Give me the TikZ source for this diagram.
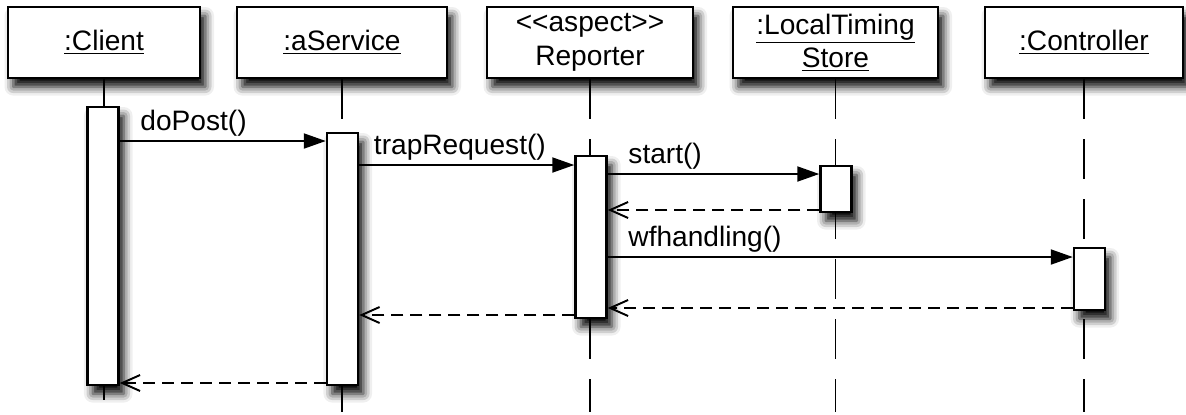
\documentclass[tikz,border=0pt]{standalone}
\usepackage{fontspec}
\setmainfont{Liberation Sans}
\usetikzlibrary{arrows.meta,shadows.blur}

\begin{document}
\begin{tikzpicture}[x=0.02cm,y=-0.02cm,
    ombre/.style={blur shadow={shadow xshift=3pt,shadow yshift=-5pt,shadow blur radius=5pt,shadow opacity=100}},
    obj box/.style={draw,line width=1.4pt,fill=white,minimum height=1.42cm,align=center,
      font=\fontsize{16}{19}\selectfont,ombre},
    act box/.style={draw,line width=1.4pt,fill=white,minimum width=0.62cm,inner sep=0pt,ombre},
    life line/.style={line width=1.1pt,dash pattern=on 0.8cm off 0.4cm},
    call/.style={line width=1.1pt,-{Triangle[length=0.44cm,width=0.3cm]}},
    reply/.style={line width=1.1pt,dash pattern=on 0.24cm off 0.14cm,
      -{Straight Barb[length=0.36cm,width=0.32cm,line width=1.1pt]}},
    msg label/.style={anchor=base west,fill=white,inner sep=1pt,
      font=\fontsize{16}{19}\selectfont,xshift=0.36cm,yshift=0.22cm}]
    \useasboundingbox (0,0) rectangle (1186,414);

    % niveaux des messages
    \coordinate (m1) at (0,141);
    \coordinate (m2) at (0,165);
    \coordinate (m3) at (0,174);
    \coordinate (r1) at (0,210);
    \coordinate (m4) at (0,257);
    \coordinate (r2) at (0,308);
    \coordinate (r3) at (0,315);
    \coordinate (r4) at (0,383);
    \coordinate (bas) at (0,412);
    \coordinate (bas client) at (0,400);

    % les objets
    \node[obj box,minimum width=3.84cm] (client) at (104,42.5) {\underline{:Client}};
    \node[obj box,minimum width=4.2cm] (service) at (342,42.5) {\underline{:aService}};
    \node[obj box,minimum width=4.12cm] (reporter) at (590,42.5) {<\kern0pt<aspect>\kern0pt>\\Reporter};
    \node[obj box,minimum width=4.1cm] (store) at (835.5,42.5) {\underline{:LocalTiming}\\\underline{Store}};
    \node[obj box,minimum width=3.96cm] (ctrl) at (1084,42.5) {\underline{:Controller}};

    % lignes de vie
    \draw[life line] (client.south) -- (client.south |- bas client);
    \foreach \o in {service,reporter,store,ctrl}
        \draw[life line] (\o.south) -- (\o.south |- bas);

    % barres d'activation
    \node[act box,minimum height=5.56cm] (cact) at (103,246) {};
    \node[act box,minimum height=5.04cm] (sact) at (342.5,259) {};
    \node[act box,minimum height=3.24cm] (ract) at (591,237) {};
    \node[act box,minimum height=0.92cm] (lact) at (836,189) {};
    \node[act box,minimum height=1.24cm] (kact) at (1089.5,279) {};

    % appels
    \draw[call] (cact.east |- m1) -- node[msg label,pos=0] {doPost()} (sact.west |- m1);
    \draw[call] (sact.east |- m2) -- node[msg label,pos=0,xshift=-0.12cm] {trapRequest()} (ract.west |- m2);
    \draw[call] (ract.east |- m3) -- node[msg label,pos=0] {start()} (lact.west |- m3);
    \draw[call] (ract.east |- m4) -- node[msg label,pos=0] {wfhandling()} (kact.west |- m4);

    % retours
    \draw[reply] (lact.west |- r1) -- (ract.east |- r1);
    \draw[reply] (kact.west |- r2) -- (ract.east |- r2);
    \draw[reply] (ract.west |- r3) -- (sact.east |- r3);
    \draw[reply] (sact.west |- r4) -- (cact.east |- r4);
\end{tikzpicture}
\end{document}
